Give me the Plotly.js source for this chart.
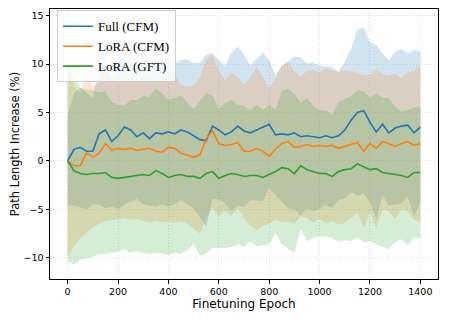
<!DOCTYPE html>
<html>
<head>
<meta charset="utf-8">
<script src="https://cdn.plot.ly/plotly-3.0.1.min.js"></script>
<style>
  html, body { margin: 0; padding: 0; background: #fff; }
  #fig { width: 449px; height: 320px; }
</style>
</head>
<body>
<div id="fig"></div>
<script>
const epochs = [0, 25, 50, 75, 100, 125, 150, 175, 200, 225,
  250, 275, 300, 325, 350, 375, 400, 425, 450, 475,
  500, 525, 550, 575, 600, 625, 650, 675, 700, 725,
  750, 775, 800, 825, 850, 875, 900, 925, 950, 975,
  1000, 1025, 1050, 1075, 1100, 1125, 1150, 1175, 1200, 1225,
  1250, 1275, 1300, 1325, 1350, 1375, 1400];

// Full (CFM)
const fullMean = [0.0, 1.2, 1.4, 1.0, 1.0, 2.8, 3.2, 2.0, 2.6, 3.5,
  3.2, 2.5, 2.9, 2.3, 2.9, 2.8, 3.0, 2.8, 3.2, 3.0,
  2.6, 2.2, 2.1, 3.6, 3.2, 2.7, 3.0, 3.6, 3.1, 2.9,
  3.2, 3.5, 3.8, 2.7, 2.8, 2.7, 2.9, 2.5, 2.6, 2.5,
  2.4, 2.6, 2.4, 2.6, 3.2, 4.2, 5.0, 5.2, 4.0, 3.0,
  3.8, 2.9, 3.4, 3.6, 3.7, 2.9, 3.5];
const fullStd = [4.6, 5.8, 6.2, 6.0, 5.5, 7.3, 8.1, 6.7, 7.6, 8.0,
  7.4, 6.4, 7.4, 6.9, 7.6, 7.3, 7.7, 7.3, 7.2, 7.5,
  7.5, 8.0, 8.9, 7.5, 7.2, 7.1, 8.2, 8.2, 7.9, 7.0,
  7.3, 7.7, 6.6, 6.2, 7.0, 7.6, 7.9, 8.2, 7.5, 7.7,
  7.4, 7.15, 7.3, 6.6, 7.1, 7.4, 8.6, 8.6, 8.3, 9.0,
  7.3, 7.5, 7.9, 8.0, 7.4, 8.6, 7.8];

// LoRA (CFM)
const loraMean = [0.0, -0.5, -0.5, 0.8, 0.4, 0.8, 1.8, 1.1, 1.3, 1.2,
  1.3, 1.1, 1.2, 1.3, 1.0, 0.9, 1.4, 1.3, 0.8, 0.6,
  0.4, 0.6, 2.3, 3.1, 1.8, 1.6, 1.7, 1.9, 1.0, 1.0,
  1.3, 1.0, 0.5, 1.2, 1.8, 2.0, 1.4, 1.5, 1.7, 1.5,
  1.6, 1.5, 1.6, 1.3, 1.5, 1.7, 1.9, 1.0, 1.8, 1.3,
  2.0, 1.8, 1.5, 1.8, 2.0, 1.6, 1.8];
const loraStd = [9.9, 8.3, 7.5, 8.2, 7.3, 7.3, 8.0, 7.2, 7.3, 7.1,
  7.4, 7.1, 7.4, 7.7, 7.2, 7.2, 7.7, 7.7, 7.0, 7.1,
  7.35, 8.1, 8.2, 7.9, 7.6, 6.7, 7.4, 6.8, 6.9, 7.6,
  8.4, 7.7, 7.0, 7.3, 8.1, 8.2, 7.9, 7.2, 7.6, 7.9,
  7.6, 8.0, 7.8, 7.9, 7.9, 7.6, 7.2, 7.9, 7.1, 8.2,
  7.0, 7.0, 7.5, 6.8, 7.2, 7.7, 8.0];

// LoRA (GFT)
const gftMean = [0.0, -1.0, -1.3, -1.4, -1.3, -1.3, -1.2, -1.7, -1.8, -1.7,
  -1.6, -1.5, -1.4, -1.5, -1.0, -1.3, -1.7, -1.5, -1.4, -1.6,
  -1.6, -1.8, -1.3, -1.1, -1.8, -1.5, -1.3, -1.4, -1.6, -1.5,
  -1.5, -1.7, -1.4, -1.1, -0.7, -0.8, -1.3, -0.5, -0.9, -1.1,
  -1.3, -1.3, -1.6, -1.1, -0.9, -0.8, -0.3, -0.6, -0.9, -0.8,
  -1.2, -1.3, -1.4, -1.5, -1.7, -1.2, -1.2];
const gftStd = [10.4, 9.7, 8.9, 8.7, 8.6, 8.4, 8.4, 7.8, 7.6, 7.4,
  7.9, 7.8, 8.1, 8.1, 8.5, 8.3, 8.0, 8.0, 8.2, 7.6,
  7.0, 8.0, 8.3, 7.9, 7.2, 7.5, 7.6, 7.2, 7.3, 6.8,
  7.3, 7.0, 7.2, 6.4, 7.9, 8.3, 8.2, 6.5, 7.4, 6.8,
  6.5, 6.5, 6.4, 7.2, 7.3, 7.5, 7.6, 7.8, 7.4, 7.8,
  7.7, 7.8, 7.0, 6.6, 7.0, 6.7, 6.8];

const seriesNames = ["Full (CFM)", "LoRA (CFM)", "LoRA (GFT)"];
const xTicks = [0, 200, 400, 600, 800, 1000, 1200, 1400];
const yTicks = [-10, -5, 0, 5, 10, 15];

const colors = ["#1f77b4", "#ff7f0e", "#2ca02c"];
const fills = ["rgba(31,119,180,0.2)", "rgba(255,127,14,0.2)", "rgba(44,160,44,0.2)"];

function band(mean, std, i) { // shaded mean +/- std
  let up = mean.map((m, k) => m + std[k]);
  let lo = mean.map((m, k) => m - std[k]);
  let xr = [...epochs].reverse();
  return {x: [...epochs, ...xr], y: [...up, ...lo.reverse()],
          type: "scatter", mode: "lines", fill: "toself",
          fillcolor: fills[i], line: {width: 0, color: "rgba(0,0,0,0)"},
          showlegend: false, hoverinfo: "skip"};
}

function line(mean, i) {
  return {x: epochs, y: mean, type: "scatter", mode: "lines",
          name: seriesNames[i], line: {color: colors[i], width: 1.6}};
}

const means = [fullMean, loraMean, gftMean];
const stds = [fullStd, loraStd, gftStd];

let data = [];
for (let i = 0; i < 3; i++) data.push(band(means[i], stds[i], i));
for (let i = 0; i < 3; i++) data.push(line(means[i], i));

const axisCommon = {
  showline: true, mirror: true, linecolor: "#000", linewidth: 1,
  ticks: "outside", ticklen: 3.5, tickwidth: 1, tickcolor: "#000",
  showgrid: true, gridcolor: "#dcdcdc", griddash: "1px,2px", gridwidth: 1,
  zeroline: false,
  tickfont: {family: "DejaVu Sans", size: 9.5, color: "#000"}
};

const layout = {
  width: 449, height: 320,
  margin: {l: 50, r: 11, t: 9, b: 41},
  paper_bgcolor: "#fff", plot_bgcolor: "#fff",
  showlegend: true,
  legend: {x: 0.018, y: 0.995, xanchor: "left", yanchor: "top",
           bgcolor: "rgba(255,255,255,0.8)", bordercolor: "#cccccc", borderwidth: 1,
           tracegroupgap: 0,
           font: {family: "Liberation Serif", size: 13, color: "#000"}},
  xaxis: Object.assign({}, axisCommon, {
    range: [-70, 1470], tickvals: xTicks,
    title: {text: "Finetuning Epoch", font: {family: "DejaVu Sans", size: 12, color: "#000"}, standoff: 3}
  }),
  yaxis: Object.assign({}, axisCommon, {
    range: [-12.2, 15.7], tickvals: yTicks,
    title: {text: "Path Length Increase (%)", font: {family: "DejaVu Sans", size: 11.5, color: "#000"}, standoff: 1}
  })
};

Plotly.newPlot("fig", data, layout, {displayModeBar: false, staticPlot: true});
</script>
</body>
</html>
